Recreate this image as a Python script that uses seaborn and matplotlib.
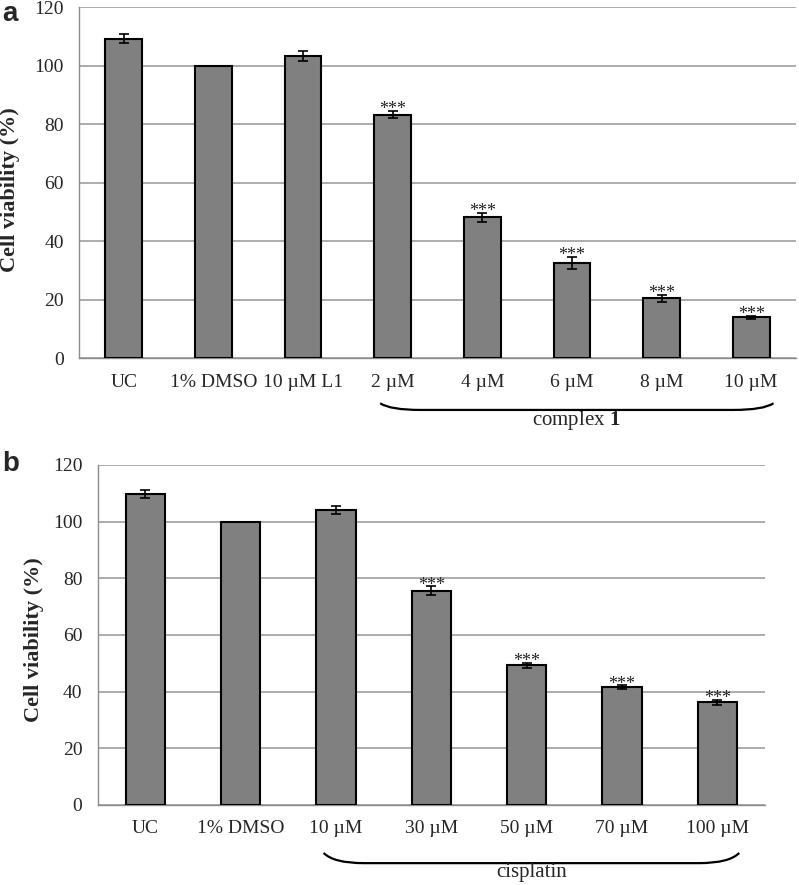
import numpy as np
import pandas as pd
import seaborn as sns
import matplotlib.pyplot as plt
from matplotlib.path import Path
from matplotlib.patches import PathPatch
import matplotlib.transforms as mtransforms

# panel a: complex 1
labels_a = ["UC", "1% DMSO", "10 µM L1", "2 µM", "4 µM", "6 µM", "8 µM", "10 µM"]
viab_a = [109.3, 100.0, 103.5, 83.3, 48.2, 32.7, 20.6, 14.0]
sd_a = [1.4, 0.0, 1.7, 1.3, 1.6, 2.0, 1.2, 0.6]
sig_a = [False, False, False, True, True, True, True, True]

# panel b: cisplatin
labels_b = ["UC", "1% DMSO", "10 µM", "30 µM", "50 µM", "70 µM", "100 µM"]
viab_b = [109.7, 100.0, 104.1, 75.6, 49.3, 41.5, 36.3]
sd_b = [1.3, 0.0, 1.3, 1.6, 0.9, 0.7, 0.9]
sig_b = [False, False, False, True, True, True, True]

sns.set_style("white")
plt.rcParams['font.family'] = ['Liberation Serif', 'DejaVu Serif']
plt.rcParams['mathtext.fontset'] = 'custom'
plt.rcParams['mathtext.rm'] = 'Liberation Serif'
plt.rcParams['mathtext.bf'] = 'Liberation Serif:bold'

GRID = '#a6a6a6'
SPINE = '#8c8c8c'


def draw_brace(ax, x0, x1, y_end, y_bot, r):
    trans = mtransforms.blended_transform_factory(ax.transData, ax.transAxes)
    verts = [(x0, y_end), (x0 + 0.25 * r, y_bot), (x0 + r, y_bot),
             (x1 - r, y_bot), (x1 - 0.25 * r, y_bot), (x1, y_end)]
    codes = [Path.MOVETO, Path.CURVE3, Path.CURVE3,
             Path.LINETO, Path.CURVE3, Path.CURVE3]
    ax.add_patch(PathPatch(Path(verts, codes), transform=trans, fill=False,
                           lw=1.6, edgecolor='black', clip_on=False))


def panel(ax, labels, viab, sd, sig):
    df = pd.DataFrame({"group": labels, "viability": viab})
    n = len(labels)
    sns.barplot(data=df, x="group", y="viability", color="#808080",
                saturation=1, edgecolor="black", linewidth=1.5, width=0.41,
                ax=ax, zorder=3)
    ax.errorbar(np.arange(n), viab, yerr=sd, fmt='none', ecolor='black',
                elinewidth=1.2, capsize=3.5, capthick=1.2, zorder=4)
    for i in range(n):
        if sig[i]:
            ax.annotate("***", (i, viab[i] + sd[i]), xytext=(0, -2.5),
                        textcoords='offset points', ha='center', va='baseline',
                        fontsize=13, color='#222222')
    ax.set_xlim(-0.5, n - 0.5)
    ax.set_ylim(0, 120)
    ax.set_yticks(range(0, 121, 20))
    ax.set_xticks(np.arange(-0.5, n, 1), minor=True)
    ax.tick_params(axis='x', which='major', length=0, pad=11, labelsize=14)
    ax.tick_params(axis='x', which='minor', length=6, color=SPINE, direction='out')
    ax.tick_params(axis='y', length=5, color=SPINE, direction='out', pad=6, labelsize=14)
    ax.yaxis.grid(True, color=GRID, lw=1.3)
    ax.xaxis.grid(False)
    ax.set_axisbelow(True)
    for s in ['top', 'right']:
        ax.spines[s].set_visible(False)
    for s in ['left', 'bottom']:
        ax.spines[s].set_color(SPINE)
        ax.spines[s].set_linewidth(1.0)
    ax.set_xlabel("")
    ax.set_ylabel("Cell viability (%)", fontsize=16, fontweight='bold')


fig = plt.figure(figsize=(7.99, 8.85), dpi=100)
ax_a = fig.add_axes([0.0989, 0.5951, 0.8973, 0.3967])
ax_b = fig.add_axes([0.1223, 0.0904, 0.8351, 0.3842])

panel(ax_a, labels_a, viab_a, sd_a, sig_a)
ax_a.yaxis.set_label_coords(-0.083, 0.48)
draw_brace(ax_a, 2.86, 7.25, -0.128, -0.147, 0.45)
ax_a.text(5.05, -0.178, r"complex $\mathbf{1}$", transform=mtransforms.blended_transform_factory(ax_a.transData, ax_a.transAxes),
          ha='center', va='center', fontsize=15)

panel(ax_b, labels_b, viab_b, sd_b, sig_b)
ax_b.yaxis.set_label_coords(-0.08, 0.485)
draw_brace(ax_b, 1.87, 6.23, -0.141, -0.171, 0.42)
ax_b.text(4.05, -0.2, "cisplatin", transform=mtransforms.blended_transform_factory(ax_b.transData, ax_b.transAxes),
          ha='center', va='center', fontsize=15)

fig.text(0.003, 0.9985, "a", ha='left', va='top', fontsize=20, fontweight='bold',
         family=['Liberation Sans', 'DejaVu Sans'])
fig.text(0.003, 0.4905, "b", ha='left', va='top', fontsize=20, fontweight='bold',
         family=['Liberation Sans', 'DejaVu Sans'])

fig.savefig("out.png", dpi=100)
